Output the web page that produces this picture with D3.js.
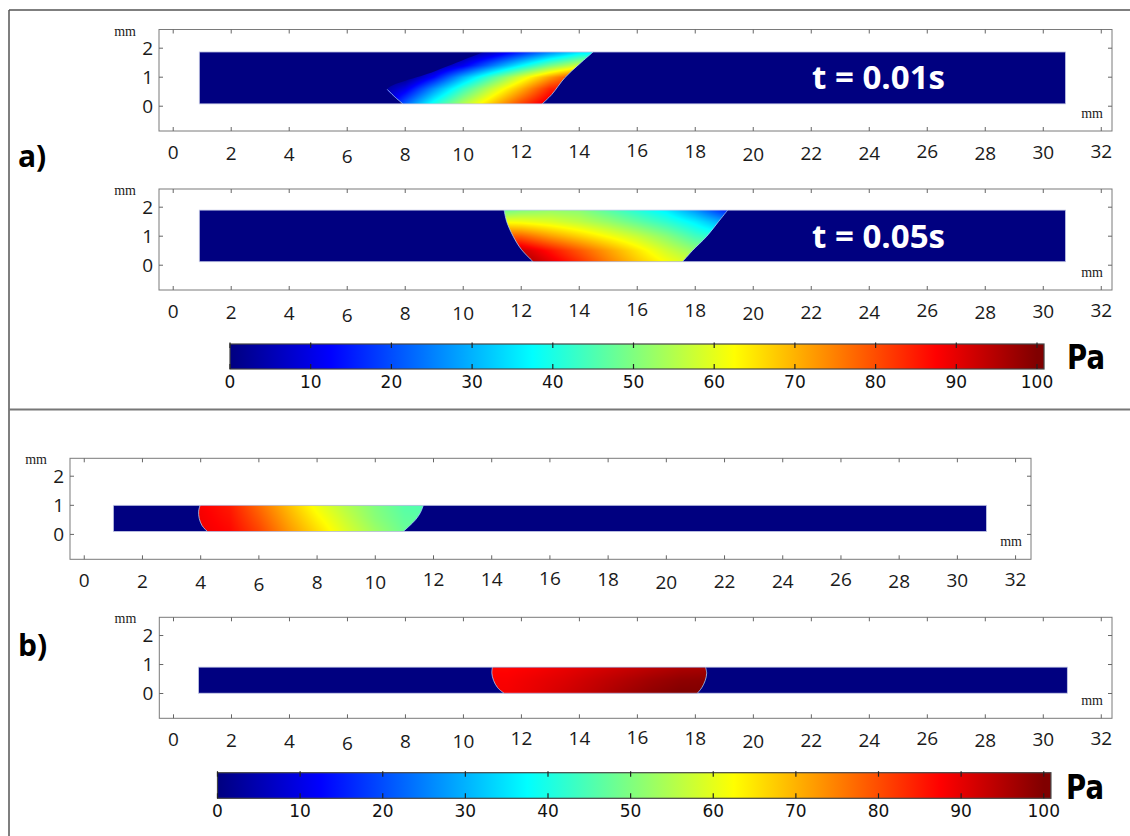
<!DOCTYPE html>
<meta charset="utf-8">
<style>
body { margin: 0; background: #fff; }
svg { display: block; }
.tl { font: 19px "Open Sans", sans-serif; fill: #1a1a1a; }
.unit { font: 14px "Liberation Serif", serif; fill: #222; }
.cbl { font: 17px "DejaVu Sans", sans-serif; fill: #111; }
</style>
<svg width="1130" height="836"></svg>
<script src="https://d3js.org/d3.v7.min.js"></script>
<script>
// jet colour map (Pa)
var jetStops = [0, 12.5, 37.5, 62.5, 87.5, 100];
var jetColors = ["#000080", "#0000ff", "#00ffff", "#ffff00", "#ff0000", "#800000"];

var xTickVals = [0, 2, 4, 6, 8, 10, 12, 14, 16, 18, 20, 22, 24, 26, 28, 30, 32];
var xTickShift = [0, 1, 2, 4, 2, 2, -1, -1, -2, -1, 2, 1, 1, -1, 1, 0, -1];
var yTickVals = [0, 1, 2];
var cbTickVals = [0, 10, 20, 30, 40, 50, 60, 70, 80, 90, 100];
var timeLabels = ["t = 0.01s", "t = 0.05s"];

// channel [x0, x1, y0, y1] in mm
var a1Channel = [0.9, 30.77, 0.08, 1.87];
var a2Channel = [0.9, 30.77, 0.12, 1.9];
var b1Channel = [1.0, 31.0, 0.1, 1.0];
var b2Channel = [0.86, 30.83, 0.01, 0.91];

// droplet interfaces in mm: left edge bottom->top, right edge top->bottom
var a1Left = [[7.92, 0.08], [7.62, 0.34], [7.38, 0.58]];
var a1Rim = [[9.0, 1.2], [10.7, 1.87]];
var a1Right = [[14.48, 1.87], [14.0, 1.45], [13.5, 0.98], [13.05, 0.4], [12.72, 0.08]];
var a2Left = [[12.41, 0.12], [12.0, 0.55], [11.72, 1.0], [11.5, 1.5], [11.41, 1.9]];
var a2Right = [[19.12, 1.9], [18.8, 1.5], [18.4, 1.0], [17.9, 0.5], [17.56, 0.12]];
var b1Left = [[4.23, 0.1], [4.05, 0.3], [3.95, 0.55], [3.93, 0.8], [3.98, 1.0]];
var b1Right = [[11.65, 1.0], [11.55, 0.75], [11.38, 0.5], [11.18, 0.3], [10.96, 0.1]];
var b2Left = [[11.4, 0.01], [11.18, 0.2], [11.04, 0.45], [10.98, 0.7], [11.0, 0.91]];
var b2Right = [[18.35, 0.91], [18.39, 0.7], [18.34, 0.45], [18.22, 0.2], [18.07, 0.01]];

// pressure (Pa), rows = y, columns = x (mm)
var a1GridX = [7, 8, 9, 10, 11, 12, 13, 14, 15];
var a1GridY = [0.08, 0.6, 1.0, 1.4, 1.87];
var a1Pa = [
  [0, 22, 40, 55, 68, 81, 92, 92, 92],
  [0, 10, 27, 43, 57, 70, 84, 90, 90],
  [0, 0, 13, 30, 45, 59, 72, 84, 84],
  [0, 0, 2, 11, 24, 37, 49, 58, 58],
  [0, 0, 0, 0, 6, 15, 25, 34, 36]
];
var a2GridX = [11, 12, 13, 14, 15, 16, 17, 18, 19, 20];
var a2GridY = [0.12, 0.5, 1.0, 1.5, 1.9];
var a2Pa = [
  [97, 97, 90, 83, 75, 68, 62, 57, 57, 57],
  [93, 93, 86, 79, 72, 65, 58, 52, 52, 52],
  [80, 78, 72, 67, 62, 57, 51, 44, 40, 40],
  [62, 61, 59, 56, 52, 47, 42, 36, 28, 28],
  [46, 50, 52, 51, 46, 41, 36, 27, 16, 16]
];
var b1GridX = [3, 4, 5, 6, 7, 8, 9, 10, 11, 12];
var b1GridY = [0.1, 0.55, 1.0];
var b1Pa = [
  [89, 89, 87, 81, 73, 66, 59, 53, 48, 47],
  [88.5, 88.5, 86, 79, 71, 63.5, 57, 51, 47, 46],
  [88, 88, 85, 77, 69, 61, 55, 50, 46, 45]
];
var b2GridX = [10.5, 11.5, 12.5, 13.5, 14.5, 15.5, 16.5, 17.5, 18.5];
var b2GridY = [0.01, 0.45, 0.91];
var b2Pa = [
  [88.5, 88.5, 90, 92, 94, 96.5, 98.5, 100, 100],
  [88, 88, 89.5, 91, 93, 95, 97, 98.5, 99],
  [87, 87, 88, 89.5, 91, 92.5, 94, 95.5, 96]
];

var svg = d3.select("svg");
var jet = d3.scaleLinear().domain(jetStops).range(jetColors).clamp(true);
var defs = svg.append("defs");

// outer borders
svg.append("line").attr("x1", 9).attr("y1", 10).attr("x2", 1130).attr("y2", 10)
    .attr("stroke", "#555").attr("stroke-width", 1.5);
svg.append("line").attr("x1", 9).attr("y1", 10).attr("x2", 9).attr("y2", 836)
    .attr("stroke", "#555").attr("stroke-width", 1.5);
svg.append("line").attr("x1", 9).attr("y1", 409.5).attr("x2", 1130).attr("y2", 409.5)
    .attr("stroke", "#777").attr("stroke-width", 2);

var plots = [
  {frame: [159, 29.5, 1112, 131], xMax: 32.37, ch: a1Channel, left: a1Left, rim: a1Rim, right: a1Right, gx: a1GridX, gy: a1GridY, pa: a1Pa, t: timeLabels[0], tx: 812, ty: 89},
  {frame: [159, 189, 1112, 290], xMax: 32.37, ch: a2Channel, left: a2Left, rim: [], right: a2Right, gx: a2GridX, gy: a2GridY, pa: a2Pa, t: timeLabels[1], tx: 812, ty: 248},
  {frame: [70, 458.3, 1031, 559.3], xMax: 32.53, ch: b1Channel, left: b1Left, rim: [], right: b1Right, gx: b1GridX, gy: b1GridY, pa: b1Pa},
  {frame: [159.3, 617.3, 1112, 718.3], xMax: 32.37, ch: b2Channel, left: b2Left, rim: [], right: b2Right, gx: b2GridX, gy: b2GridY, pa: b2Pa}
];

function fieldAt(gx, gy, vals, mx, my) {
  var i = Math.max(0, Math.min(gx.length - 2, d3.bisectRight(gx, mx) - 1));
  var j = Math.max(0, Math.min(gy.length - 2, d3.bisectRight(gy, my) - 1));
  var tx = Math.max(0, Math.min(1, (mx - gx[i]) / (gx[i + 1] - gx[i])));
  var ty = Math.max(0, Math.min(1, (my - gy[j]) / (gy[j + 1] - gy[j])));
  var a = vals[j][i] * (1 - tx) + vals[j][i + 1] * tx;
  var b = vals[j + 1][i] * (1 - tx) + vals[j + 1][i + 1] * tx;
  return a * (1 - ty) + b * ty;
}

plots.forEach(function(p, k) {
  var L = p.frame[0], T = p.frame[1], R = p.frame[2], B = p.frame[3];
  var x = d3.scaleLinear().domain([-0.49, p.xMax]).range([L, R]);
  var pxmm = (R - L) / (p.xMax + 0.49);
  var y = d3.scaleLinear().domain([-0.855, -0.855 + (B - T) / pxmm]).range([B, T]);
  var g = svg.append("g");

  // channel
  g.append("rect")
      .attr("x", x(p.ch[0])).attr("y", y(p.ch[3]))
      .attr("width", x(p.ch[1]) - x(p.ch[0])).attr("height", y(p.ch[2]) - y(p.ch[3]))
      .attr("fill", jet(0));

  // pressure field inside droplet
  var pts = p.left.concat(p.rim).concat(p.right);
  var x0 = Math.floor(x(d3.min(pts, function(d) { return d[0]; }))) - 1,
      x1 = Math.ceil(x(d3.max(pts, function(d) { return d[0]; }))) + 1,
      y0 = Math.floor(y(p.ch[3])), y1 = Math.ceil(y(p.ch[2]));
  var w = x1 - x0, h = y1 - y0;
  var canvas = document.createElement("canvas");
  canvas.width = w; canvas.height = h;
  var ctx = canvas.getContext("2d");
  var img = ctx.createImageData(w, h);
  for (var j = 0; j < h; j++) {
    var my = y.invert(y0 + j + 0.5);
    for (var i = 0; i < w; i++) {
      var c = d3.rgb(jet(fieldAt(p.gx, p.gy, p.pa, x.invert(x0 + i + 0.5), my)));
      var o = (j * w + i) * 4;
      img.data[o] = c.r; img.data[o + 1] = c.g; img.data[o + 2] = c.b; img.data[o + 3] = 255;
    }
  }
  ctx.putImageData(img, 0, 0);

  var curve = d3.line().x(function(d) { return x(d[0]); }).y(function(d) { return y(d[1]); })
      .curve(d3.curveCatmullRom);
  var clipD = curve(p.left.concat(p.rim)) + curve(p.right).replace(/^M/, "L") + "Z";
  defs.append("clipPath").attr("id", "drop" + k).append("path").attr("d", clipD);
  g.append("image").attr("x", x0).attr("y", y0).attr("width", w).attr("height", h)
      .attr("preserveAspectRatio", "none")
      .attr("href", canvas.toDataURL())
      .attr("clip-path", "url(#drop" + k + ")");

  [p.left, p.right].forEach(function(e) {
    g.append("path").attr("d", curve(e)).attr("fill", "none")
        .attr("stroke", "#a8d8ff").attr("stroke-width", 0.9).attr("opacity", 0.85);
  });

  g.append("rect")
      .attr("x", x(p.ch[0])).attr("y", y(p.ch[3]))
      .attr("width", x(p.ch[1]) - x(p.ch[0])).attr("height", y(p.ch[2]) - y(p.ch[3]))
      .attr("fill", "none").attr("stroke", "#c5cae6").attr("stroke-width", 0.8);

  // frame and ticks
  g.append("rect").attr("x", L).attr("y", T).attr("width", R - L).attr("height", B - T)
      .attr("fill", "none").attr("stroke", "#7a7a7a").attr("stroke-width", 1);
  xTickVals.forEach(function(v, n) {
    g.append("line").attr("x1", x(v)).attr("x2", x(v)).attr("y1", B).attr("y2", B - 4).attr("stroke", "#666");
    g.append("line").attr("x1", x(v)).attr("x2", x(v)).attr("y1", T).attr("y2", T + 4).attr("stroke", "#666");
    g.append("text").attr("class", "tl").attr("x", x(v)).attr("y", B + 28 + xTickShift[n])
        .attr("text-anchor", "middle").text(v);
  });
  yTickVals.forEach(function(v) {
    g.append("line").attr("x1", L).attr("x2", L + 4).attr("y1", y(v)).attr("y2", y(v)).attr("stroke", "#666");
    g.append("line").attr("x1", R).attr("x2", R - 4).attr("y1", y(v)).attr("y2", y(v)).attr("stroke", "#666");
    g.append("text").attr("class", "tl").attr("x", L - 6).attr("y", y(v)).attr("dy", "0.36em")
        .attr("text-anchor", "end").text(v);
  });
  g.append("text").attr("class", "unit").attr("x", L - 23).attr("y", T + 6)
      .attr("text-anchor", "end").text("mm");
  g.append("text").attr("class", "unit").attr("x", R - 9).attr("y", B - 13)
      .attr("text-anchor", "end").text("mm");

  if (p.t) {
    g.append("text").attr("x", p.tx).attr("y", p.ty)
        .attr("textLength", 133).attr("lengthAdjust", "spacingAndGlyphs")
        .style("font", "bold 32px 'Open Sans', sans-serif").style("fill", "#fff")
        .text(p.t);
  }
});

// colour bars
var bars = [
  {x0: 230, x100: 1037, top: 344, bottom: 369, lab: 388, paX: 1067, paY: 369},
  {x0: 217.5, x100: 1043.75, top: 772.7, bottom: 798.3, lab: 817, paX: 1066, paY: 799}
];
var grad = defs.append("linearGradient").attr("id", "jetGrad");
grad.selectAll("stop").data(jetStops).enter().append("stop")
    .attr("offset", function(d) { return d / 100.87; })
    .attr("stop-color", function(d, i) { return jetColors[i]; });

bars.forEach(function(b) {
  var cx = d3.scaleLinear().domain([0, 100]).range([b.x0, b.x100]);
  var g = svg.append("g");
  g.append("rect").attr("x", cx(0)).attr("y", b.top)
      .attr("width", cx(100.87) - cx(0)).attr("height", b.bottom - b.top)
      .attr("fill", "url(#jetGrad)").attr("stroke", "#444").attr("stroke-width", 1.2);
  cbTickVals.forEach(function(v) {
    g.append("line").attr("x1", cx(v)).attr("x2", cx(v)).attr("y1", b.top - 1.5).attr("y2", b.top + 4)
        .attr("stroke", "#222").attr("stroke-width", 1.2);
    g.append("line").attr("x1", cx(v)).attr("x2", cx(v)).attr("y1", b.bottom).attr("y2", b.bottom - 5)
        .attr("stroke", "#222").attr("stroke-width", 1.2);
    g.append("text").attr("class", "cbl").attr("x", cx(v)).attr("y", b.lab)
        .attr("text-anchor", "middle").text(v);
  });
  g.append("text").attr("x", b.paX).attr("y", b.paY)
      .attr("textLength", 38).attr("lengthAdjust", "spacingAndGlyphs")
      .style("font", "bold 34px 'DejaVu Sans', sans-serif").style("fill", "#000")
      .text("Pa");
});

// panel letters
svg.append("text").attr("x", 18).attr("y", 167).style("font", "bold 30px 'Open Sans', sans-serif").text("a)");
svg.append("text").attr("x", 18).attr("y", 656).style("font", "bold 30px 'Open Sans', sans-serif").text("b)");
</script>
